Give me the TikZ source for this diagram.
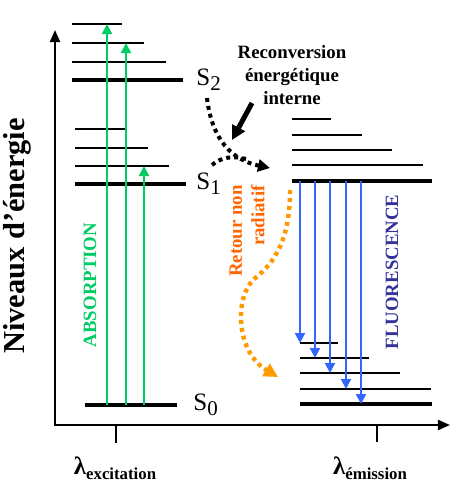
\documentclass[tikz,border=0pt]{standalone}
\usepackage{fontspec}
\setmainfont{Liberation Serif}
\usetikzlibrary{arrows.meta}
\definecolor{absgreen}{RGB}{0,204,102}
\definecolor{emblue}{RGB}{51,102,255}
\definecolor{fluoblue}{RGB}{51,51,153}
\definecolor{retorange}{RGB}{255,102,0}
\definecolor{dotorange}{RGB}{255,153,0}
\newcommand{\lvlname}[1]{S\raisebox{-0.45ex}{\fontsize{10.5}{11}\selectfont #1}}
\newcommand{\wavelen}[1]{{\bfseries\fontsize{12.5}{14}\selectfont λ\raisebox{-0.4ex}{\fontsize{8.4}{10}\selectfont #1}}}

\begin{document}
\begin{tikzpicture}[x=0.5pt,y=-0.5pt,
        thin level/.style={line width=0.8pt},
        thick level/.style={line width=2pt},
        absorb/.style={draw=absgreen,line width=1pt,-{Triangle[length=5pt,width=5pt]}},
        emit/.style={draw=emblue,line width=1pt,-{Triangle[length=5pt,width=5pt]}},
        dotted path/.style={line width=2pt,dash pattern=on 2pt off 2pt},
        legend/.style={font=\bfseries\fontsize{9.4}{11.3}\selectfont,inner sep=0pt},
        state/.style={font=\fontsize{12.5}{14}\selectfont,anchor=west,inner sep=0pt}]
    \useasboundingbox (0,0) rectangle (453,484);
    % axes
    \coordinate (origin) at (55,425);
    \coordinate (ytop) at (55,30);
    \coordinate (xend) at (450,425);
    \draw[line width=1pt,{Triangle[length=6pt,width=5pt]}-{Triangle[length=6pt,width=5pt]}] (ytop) |- (xend);
    \draw[line width=1pt] (116,425) -- (116,443) coordinate (tickex);
    \draw[line width=1pt] (377,425) -- (377,442) coordinate (tickem);
    \node (lex) at (115,468) {\wavelen{excitation}};
    \node (lem) at (370,468) {\wavelen{émission}};
    \node[font=\bfseries\fontsize{15.2}{18}\selectfont,rotate=90] (niv) at (17,236) {Niveaux d’énergie};
    % left levels
    \foreach \y/\x in {24/122,43/144,62/166}
        \draw[thin level] (72,\y) -- (\x,\y);
    \draw[thick level] (72,80) -- (183,80);
    \foreach \y/\x in {129/125,148/148,166/169}
        \draw[thin level] (75,\y) -- (\x,\y);
    \draw[thick level] (75,184) -- (186,184);
    \draw[thick level] (85,405) -- (177,405);
    \node[state] (S2) at (196,80) {\lvlname{2}};
    \node[state] (S1) at (196,184) {\lvlname{1}};
    \node[state] (S0) at (193,405) {\lvlname{0}};
    \foreach \x/\y in {107/24,126/43,144/166}
        \draw[absorb] (\x,405) -- (\x,\y);
    \node[legend,text=absgreen,rotate=90] (abs) at (90,285) {ABSORPTION};
    % right levels
    \foreach \y/\x in {119/331,135/362,150/392,165/423}
        \draw[thin level] (292,\y) -- (\x,\y);
    \draw[thick level] (292,181) -- (432,181);
    \foreach \y/\x in {343/338,358/369,373/400,389/431}
        \draw[thin level] (300,\y) -- (\x,\y);
    \draw[thick level] (300,404) -- (432,404);
    \foreach \x/\y in {300/343,315/358,330/373,346/389,361/404}
        \draw[emit] (\x,181) -- (\x,\y);
    \node[legend,text=fluoblue,rotate=90] (fluo) at (392,272) {FLUORESCENCE};
    % internal conversion
    \node[legend,align=center] (rec) at (292,75) {Reconversion\\énergétique\\interne};
    \draw[line width=2.5pt,-{Triangle[length=7pt,width=7pt]}] (252,103) -- (232,140);
    \draw[dotted path,-{Triangle[length=6pt,width=6pt]}] (207,98) .. controls (212,140) and (232,160) .. (270,168);
    \draw[dotted path] (212,165) .. controls (220,158) and (232,155) .. (246,159);
    % non radiative return
    \node[legend,text=retorange,rotate=90,align=right] (ret) at (247,231) {Retour non\\radiatif};
    \draw[dotted path,draw=dotorange,line width=2.2pt,-{Triangle[length=7pt,width=7pt,fill=dotorange]}]
        (290,190) .. controls (290,238) and (276,262) .. (254,279)
        .. controls (234,298) and (236,352) .. (278,377);
\end{tikzpicture}
\end{document}
